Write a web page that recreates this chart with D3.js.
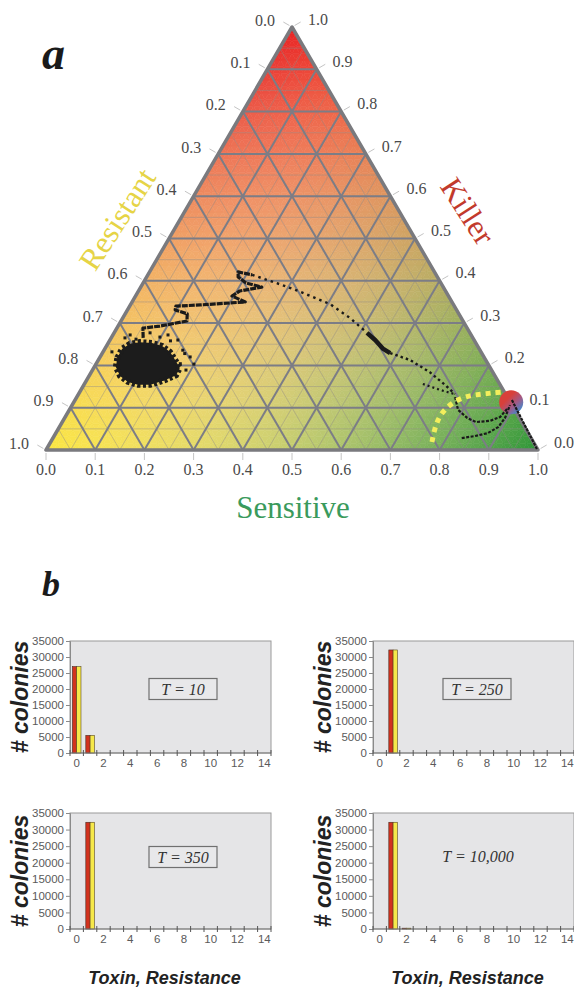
<!DOCTYPE html>
<html>
<head>
<meta charset="utf-8">
<script src="https://cdn.jsdelivr.net/npm/d3@7"></script>
<style>
  body { margin: 0; background: #fff; }
  svg { display: block; }
</style>
</head>
<body>
<svg id="chart" width="574" height="989"></svg>
<script>
"use strict";

// ---- panel a : ternary data, points are [sensitive, killer] (resistant = 1 - s - k)
var ternTicks = d3.range(0, 11).map(function(i) { return i / 10; });

var blobOutline = [
  [0.036, 0.218], [0.035, 0.239], [0.045, 0.251], [0.063, 0.255], [0.089, 0.253],
  [0.113, 0.246], [0.136, 0.232], [0.156, 0.213], [0.175, 0.194], [0.176, 0.177],
  [0.159, 0.165], [0.135, 0.154], [0.110, 0.154], [0.086, 0.161], [0.063, 0.175],
  [0.044, 0.196]
];
var blobScatter = [
  [0.035, 0.272], [0.073, 0.277], [0.098, 0.267], [0.112, 0.272], [0.138, 0.260],
  [0.160, 0.236], [0.183, 0.220], [0.199, 0.203], [0.028, 0.265], [0.018, 0.232],
  [0.190, 0.189], [0.052, 0.262], [0.124, 0.258], [0.168, 0.228], [0.171, 0.204]
];
var pathStepped = [
  [0.065, 0.265], [0.053, 0.288], [0.085, 0.293], [0.134, 0.305], [0.126, 0.322],
  [0.097, 0.331], [0.094, 0.340], [0.142, 0.343], [0.230, 0.350], [0.196, 0.364],
  [0.206, 0.376], [0.246, 0.385], [0.209, 0.395], [0.186, 0.409], [0.180, 0.421],
  [0.212, 0.414]
];
var pathDriftA = [
  [0.212, 0.414], [0.279, 0.392], [0.330, 0.374], [0.405, 0.345], [0.462, 0.312],
  [0.514, 0.277]
];
var pathKnot = [[0.514, 0.277], [0.539, 0.260], [0.566, 0.239], [0.585, 0.229]];
var pathDriftB = [[0.585, 0.229], [0.633, 0.213], [0.688, 0.184], [0.734, 0.154], [0.765, 0.132]];
var pathLoop = [[0.688, 0.156], [0.730, 0.142], [0.765, 0.132]];
var pathHook = [
  [0.769, 0.125], [0.790, 0.095], [0.818, 0.076], [0.841, 0.066], [0.868, 0.069],
  [0.884, 0.078], [0.889, 0.099]
];
var pathLower = [
  [0.831, 0.028], [0.855, 0.033], [0.878, 0.040], [0.892, 0.054], [0.895, 0.076],
  [0.890, 0.106]
];
var pathToCorner = [[0.888, 0.118], [0.997, 0.002]];
var endPoint = [0.889, 0.113];
var boundaryArc = [
  [0.775, 0.019], [0.765, 0.052], [0.761, 0.080], [0.766, 0.102], [0.778, 0.118],
  [0.798, 0.128], [0.820, 0.132], [0.841, 0.135], [0.860, 0.137]
];

// ---- panel b : histograms
var categories = d3.range(0, 15);
var t10Toxin       = [27000, 5500, 0, 0, 0, 0, 0, 0, 0, 0, 0, 0, 0, 0, 0];
var t10Resistance  = [27000, 5500, 0, 0, 0, 0, 0, 0, 0, 0, 0, 0, 0, 0, 0];
var t250Toxin      = [0, 32200, 0, 0, 0, 0, 0, 0, 0, 0, 0, 0, 0, 0, 0];
var t250Resistance = [0, 32200, 0, 0, 0, 0, 0, 0, 0, 0, 0, 0, 0, 0, 0];
var t350Toxin      = [0, 32200, 0, 0, 0, 0, 0, 0, 0, 0, 0, 0, 0, 0, 0];
var t350Resistance = [0, 32200, 0, 0, 0, 0, 0, 0, 0, 0, 0, 0, 0, 0, 0];
var t10kToxin      = [0, 32200, 250, 0, 0, 0, 0, 0, 0, 0, 0, 0, 0, 0, 0];
var t10kResistance = [0, 32200, 250, 0, 0, 0, 0, 0, 0, 0, 0, 0, 0, 0, 0];
var yTicks = d3.range(0, 35001, 5000);

var svg = d3.select("#chart");
var serif = "'Liberation Serif', 'Times New Roman', serif";
var sans = "'Liberation Sans', Arial, sans-serif";

// ================= panel a =================
var x = d3.scaleLinear().domain([0, 1]).range([46, 538]);
var y = d3.scaleLinear().domain([0, 1]).range([450, 27]);
var proj = function(d) { return [x(d[0] + d[1] / 2), y(d[1])]; };

// quadratic blend of corner colours (killer, resistant, sensitive)
var cK = [232, 35, 35], cR = [250, 230, 65], cS = [45, 150, 55];
var mKR = [239, 187, 150], mKS = [272, 237, 154], mRS = [243, 220, 160];
function colorAt(s, k) {
  var r = 1 - s - k, out = [];
  for (var c = 0; c < 3; c++) {
    var v = k * k * cK[c] + r * r * cR[c] + s * s * cS[c] +
      2 * k * r * mKR[c] + 2 * k * s * mKS[c] + 2 * r * s * mRS[c];
    out.push(Math.max(0, Math.min(255, Math.round(v))));
  }
  return "rgb(" + out.join(",") + ")";
}

var defs = svg.append("defs");
defs.append("clipPath").attr("id", "triClip")
  .append("path")
  .attr("d", d3.line()([[0, 0], [1, 0], [0, 1]].map(proj)) + "Z");

var n = 64, cells = [];
for (var i = 0; i < n; i++) {
  for (var j = 0; j < n - i; j++) {
    cells.push([[i, j], [i + 1, j], [i, j + 1]]);
    if (i + j < n - 1) cells.push([[i + 1, j], [i + 1, j + 1], [i, j + 1]]);
  }
}
var tri = svg.append("g").attr("clip-path", "url(#triClip)");
tri.selectAll("path.cell")
  .data(cells)
  .enter().append("path")
  .attr("class", "cell")
  .attr("d", function(c) {
    return d3.line()(c.map(function(p) { return proj([p[0] / n, p[1] / n]); })) + "Z";
  })
  .each(function(c) {
    var s = (c[0][0] + c[1][0] + c[2][0]) / 3 / n,
        k = (c[0][1] + c[1][1] + c[2][1]) / 3 / n,
        col = colorAt(s, k);
    d3.select(this).attr("fill", col).attr("stroke", col).attr("stroke-width", 0.6);
  });

// grid lines: constant killer, constant sensitive, constant resistant
var gridVals = d3.range(1, 20).map(function(i) { return i / 20; });
var gridLines = [];
gridVals.forEach(function(v, idx) {
  var major = (idx % 2 === 1);
  gridLines.push({ a: [0, v], b: [1 - v, v], major: major });
  gridLines.push({ a: [v, 0], b: [v, 1 - v], major: major });
  gridLines.push({ a: [1 - v, 0], b: [0, 1 - v], major: major });
});
tri.selectAll("line.grid")
  .data(gridLines.filter(function(d) { return !d.major; }).concat(gridLines.filter(function(d) { return d.major; })))
  .enter().append("line")
  .attr("class", "grid")
  .attr("x1", function(d) { return proj(d.a)[0]; })
  .attr("y1", function(d) { return proj(d.a)[1]; })
  .attr("x2", function(d) { return proj(d.b)[0]; })
  .attr("y2", function(d) { return proj(d.b)[1]; })
  .attr("stroke", function(d) { return d.major ? "#7c7d86" : "#8e8a88"; })
  .attr("stroke-opacity", function(d) { return d.major ? 1 : 0.55; })
  .attr("stroke-width", function(d) { return d.major ? 2 : 0.8; });

svg.append("path")
  .attr("d", d3.line()([[0, 0], [1, 0], [0, 1]].map(proj)) + "Z")
  .attr("fill", "none")
  .attr("stroke", "#7a7a7e")
  .attr("stroke-width", 3.5)
  .attr("stroke-linejoin", "round");

// outer ticks + labels
var fmt = d3.format(".1f");
var sides = [
  { pt: function(v) { return [0, 1 - v]; }, dir: [-0.866, -0.5], off: [-27, -7] },
  { pt: function(v) { return [1 - v, v]; }, dir: [0.866, -0.5], off: [26, -8] },
  { pt: function(v) { return [v, 0]; }, dir: [0, 1], off: [0, 19] }
];
sides.forEach(function(side) {
  var g = svg.append("g");
  g.selectAll("line")
    .data(ternTicks)
    .enter().append("line")
    .attr("x1", function(v) { return proj(side.pt(v))[0] + side.dir[0] * 3; })
    .attr("y1", function(v) { return proj(side.pt(v))[1] + side.dir[1] * 3; })
    .attr("x2", function(v) { return proj(side.pt(v))[0] + side.dir[0] * 10; })
    .attr("y2", function(v) { return proj(side.pt(v))[1] + side.dir[1] * 10; })
    .attr("stroke", "#c4c4c4")
    .attr("stroke-width", 1);
  g.selectAll("text")
    .data(ternTicks)
    .enter().append("text")
    .attr("x", function(v) { return proj(side.pt(v))[0] + side.off[0]; })
    .attr("y", function(v) { return proj(side.pt(v))[1] + side.off[1]; })
    .attr("dy", "0.35em")
    .attr("text-anchor", "middle")
    .style("font-family", serif)
    .style("font-size", "16px")
    .style("fill", "#4a4a4a")
    .text(fmt);
});

// trajectory
var line = d3.line().x(function(d) { return proj(d)[0]; }).y(function(d) { return proj(d)[1]; });

// end-point marker
var grad = defs.append("linearGradient").attr("id", "endGrad")
  .attr("x1", 0).attr("y1", 0).attr("x2", 1).attr("y2", 1);
grad.append("stop").attr("offset", "0.35").attr("stop-color", "#d8403a");
grad.append("stop").attr("offset", "0.62").attr("stop-color", "#a05a88");
grad.append("stop").attr("offset", "0.85").attr("stop-color", "#4a86c8");
svg.append("circle")
  .attr("cx", proj(endPoint)[0])
  .attr("cy", proj(endPoint)[1])
  .attr("r", 12)
  .attr("fill", "url(#endGrad)");

svg.append("path")
  .attr("d", d3.line().curve(d3.curveLinearClosed)
    .x(function(d) { return proj(d)[0]; }).y(function(d) { return proj(d)[1]; })(blobOutline))
  .attr("fill", "#1c1c1c")
  .attr("stroke", "#1c1c1c")
  .attr("stroke-width", 6)
  .attr("stroke-dasharray", "3 2.5")
  .attr("stroke-linejoin", "miter");

svg.selectAll("rect.scatter")
  .data(blobScatter)
  .enter().append("rect")
  .attr("class", "scatter")
  .attr("x", function(d) { return proj(d)[0] - 1.5; })
  .attr("y", function(d) { return proj(d)[1] - 1.5; })
  .attr("width", 3)
  .attr("height", 3)
  .attr("fill", "#1c1c1c");

var segments = [
  { pts: pathStepped, w: 3.2, dash: "6 1" },
  { pts: pathDriftA, w: 2.4, dash: "2.5 4" },
  { pts: pathKnot, w: 4.5, dash: null },
  { pts: pathDriftB, w: 2.4, dash: "2.5 3" },
  { pts: pathLoop, w: 2.2, dash: "2 3" },
  { pts: pathHook, w: 2.2, dash: "3 1.5" },
  { pts: pathLower, w: 2.2, dash: "3 1.5" },
  { pts: pathToCorner, w: 2.2, dash: "3 1" }
];
svg.selectAll("path.traj")
  .data(segments)
  .enter().append("path")
  .attr("class", "traj")
  .attr("d", function(d) { return line(d.pts); })
  .attr("fill", "none")
  .attr("stroke", "#1a1a1a")
  .attr("stroke-width", function(d) { return d.w; })
  .attr("stroke-dasharray", function(d) { return d.dash; })
  .attr("stroke-linejoin", "round");

svg.append("path")
  .attr("d", d3.line().curve(d3.curveCatmullRom)
    .x(function(d) { return proj(d)[0]; }).y(function(d) { return proj(d)[1]; })(boundaryArc))
  .attr("fill", "none")
  .attr("stroke", "#f3ee5c")
  .attr("stroke-width", 5)
  .attr("stroke-dasharray", "5 5");

// axis titles
svg.append("text")
  .attr("transform", "translate(117,219) rotate(-57)")
  .attr("text-anchor", "middle")
  .attr("dy", "0.35em")
  .style("font-family", serif)
  .style("font-size", "31px")
  .style("fill", "#e6d446")
  .text("Resistant");
svg.append("text")
  .attr("transform", "translate(468,211) rotate(57)")
  .attr("text-anchor", "middle")
  .attr("dy", "0.35em")
  .style("font-family", serif)
  .style("font-size", "31px")
  .style("fill", "#c23a2c")
  .text("Killer");
svg.append("text")
  .attr("x", 293)
  .attr("y", 518)
  .attr("text-anchor", "middle")
  .style("font-family", serif)
  .style("font-size", "31px")
  .style("fill", "#3a9a5c")
  .text("Sensitive");

svg.append("text")
  .attr("x", 42).attr("y", 69)
  .style("font-family", serif)
  .style("font-size", "46px")
  .style("font-weight", "bold")
  .style("font-style", "italic")
  .style("fill", "#1a1a1a")
  .text("a");
svg.append("text")
  .attr("x", 42).attr("y", 596)
  .style("font-family", serif)
  .style("font-size", "36px")
  .style("font-weight", "bold")
  .style("font-style", "italic")
  .style("fill", "#1a1a1a")
  .text("b");

// ================= panel b =================
var panels = [
  { x0: 70, y0: 641, h: 112, toxin: t10Toxin, resist: t10Resistance, label: "T = 10", box: true, lx: 113, ly: 48, yl: 20, title: false },
  { x0: 373, y0: 641, h: 112, toxin: t250Toxin, resist: t250Resistance, label: "T = 250", box: true, lx: 104, ly: 48, yl: 323, title: false },
  { x0: 70, y0: 813, h: 116, toxin: t350Toxin, resist: t350Resistance, label: "T = 350", box: true, lx: 113, ly: 44, yl: 20, title: true },
  { x0: 373, y0: 813, h: 116, toxin: t10kToxin, resist: t10kResistance, label: "T = 10,000", box: false, lx: 105, ly: 43, yl: 323, title: true }
];
var plotW = 201;

panels.forEach(function(p) {
  var g = svg.append("g").attr("transform", "translate(" + p.x0 + "," + p.y0 + ")");
  var xb = d3.scaleBand().domain(categories).range([0, plotW]);
  var ys = d3.scaleLinear().domain([0, 35000]).range([p.h, 0]);
  var bw = xb.bandwidth() * 0.32;

  g.append("rect")
    .attr("width", plotW).attr("height", p.h)
    .attr("fill", "#e5e5e7")
    .attr("stroke", "#9a9a9a")
    .attr("stroke-width", 1);

  var bars = g.selectAll("g.bar")
    .data(categories.filter(function(c) { return p.toxin[c] > 0 || p.resist[c] > 0; }))
    .enter().append("g").attr("class", "bar");
  bars.append("rect")
    .attr("x", function(c) { return xb(c) + xb.bandwidth() / 2 - bw; })
    .attr("y", function(c) { return ys(p.toxin[c]); })
    .attr("width", bw)
    .attr("height", function(c) { return p.h - ys(p.toxin[c]); })
    .attr("fill", "#d2321e")
    .attr("stroke", "#4a2a20")
    .attr("stroke-width", 0.6);
  bars.append("rect")
    .attr("x", function(c) { return xb(c) + xb.bandwidth() / 2; })
    .attr("y", function(c) { return ys(p.resist[c]); })
    .attr("width", bw)
    .attr("height", function(c) { return p.h - ys(p.resist[c]); })
    .attr("fill", "#f6e84a")
    .attr("stroke", "#5a4a20")
    .attr("stroke-width", 0.6);

  // y axis
  var ya = g.append("g").call(d3.axisLeft(ys).tickValues(yTicks).tickSize(4).tickFormat(d3.format("d")));
  ya.select(".domain").attr("stroke", "#8a8a8a");
  ya.selectAll(".tick line").attr("stroke", "#8a8a8a");
  ya.selectAll(".tick text")
    .attr("x", -6)
    .style("font-family", sans)
    .style("font-size", "11.5px")
    .style("fill", "#5a5a5a");

  // x axis: category labels (even) and ticks between categories
  g.append("line")
    .attr("x1", 0).attr("x2", plotW)
    .attr("y1", p.h).attr("y2", p.h)
    .attr("stroke", "#7a7a7a")
    .attr("stroke-width", 1.2);
  g.selectAll("line.xtick")
    .data(categories.concat([categories.length]))
    .enter().append("line")
    .attr("class", "xtick")
    .attr("x1", function(c) { return c * xb.step(); })
    .attr("x2", function(c) { return c * xb.step(); })
    .attr("y1", p.h - 3).attr("y2", p.h + 3)
    .attr("stroke", "#555")
    .attr("stroke-width", 1);
  g.selectAll("text.xlab")
    .data(categories.filter(function(c) { return c % 2 === 0; }))
    .enter().append("text")
    .attr("class", "xlab")
    .attr("x", function(c) { return xb(c) + xb.bandwidth() / 2; })
    .attr("y", p.h + 14)
    .attr("text-anchor", "middle")
    .style("font-family", sans)
    .style("font-size", "11.5px")
    .style("fill", "#5a5a5a")
    .text(function(c) { return c; });

  if (p.box) {
    g.append("rect")
      .attr("x", p.lx - 34).attr("y", p.ly - 10.5)
      .attr("width", 68).attr("height", 21)
      .attr("fill", "#e8e8ea")
      .attr("stroke", "#707070")
      .attr("stroke-width", 1.2);
  }
  g.append("text")
    .attr("x", p.lx).attr("y", p.ly)
    .attr("dy", "0.35em")
    .attr("text-anchor", "middle")
    .style("font-family", serif)
    .style("font-style", "italic")
    .style("font-size", "16px")
    .style("fill", "#333")
    .text(p.label);

  svg.append("text")
    .attr("transform", "translate(" + p.yl + "," + (p.y0 + p.h / 2) + ") rotate(-90)")
    .attr("text-anchor", "middle")
    .attr("dy", "0.35em")
    .style("font-family", sans)
    .style("font-weight", "bold")
    .style("font-style", "italic")
    .style("font-size", "23px")
    .style("fill", "#222")
    .text("# colonies");

  if (p.title) {
    svg.append("text")
      .attr("x", p.x0 + plotW / 2 - 6)
      .attr("y", 984)
      .attr("text-anchor", "middle")
      .style("font-family", sans)
      .style("font-weight", "bold")
      .style("font-style", "italic")
      .style("font-size", "18px")
      .style("fill", "#222")
      .text("Toxin, Resistance");
  }
});
</script>
</body>
</html>
